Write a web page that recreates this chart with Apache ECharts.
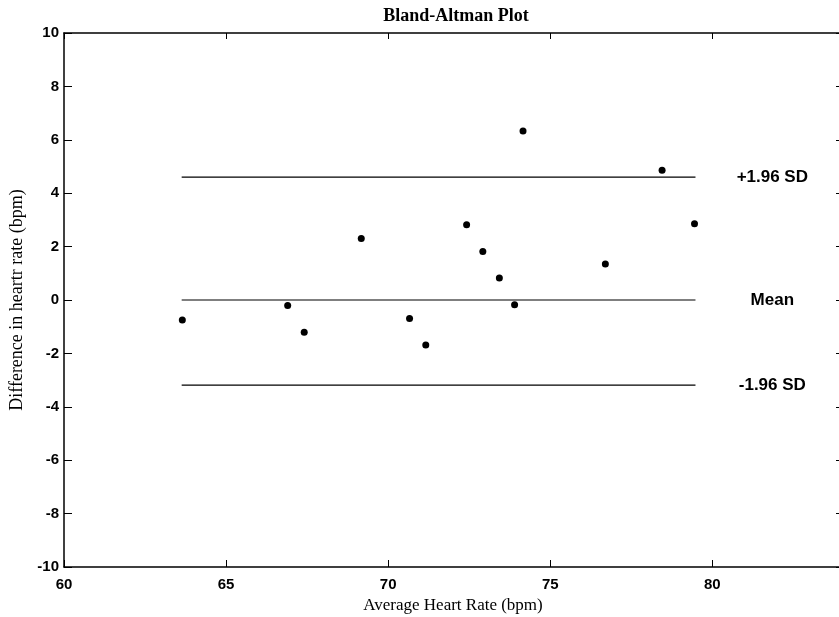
<!DOCTYPE html>
<html><head><meta charset="utf-8">
<script src="https://cdn.jsdelivr.net/npm/echarts@6/dist/echarts.min.js"></script>
<style>html,body{margin:0;padding:0;background:#fff}#c{width:839px;height:617px}</style>
</head><body><div id="c"></div>
<script>
const avgHR = [63.65, 66.90, 67.41, 69.17, 70.66, 71.16, 72.42, 72.92, 73.43, 73.90, 74.16, 76.70, 78.45, 79.45];
const diffHR = [-0.75, -0.21, -1.21, 2.30, -0.69, -1.69, 2.82, 1.82, 0.82, -0.18, 6.33, 1.35, 4.86, 2.86];
const lineX = [63.63, 79.48];
const upperSD = 4.6;
const meanDiff = 0.0;
const lowerSD = -3.19;
const refLabels = ['+1.96 SD', 'Mean', '-1.96 SD'];
const refValues = [upperSD, meanDiff, lowerSD];
const labelX = 81.85;
const xTicks = [60, 65, 70, 75, 80];
const yTicks = [-10, -8, -6, -4, -2, 0, 2, 4, 6, 8, 10];

const chart = echarts.init(document.getElementById('c'));
const tickLbl = {fontFamily: 'Liberation Sans, Arial', fontWeight: 'bold', fontSize: 15, color: '#000'};
const refLine = (v) => ({
  type: 'line', data: lineX.map(x => [x, v]), symbol: 'none', silent: true,
  lineStyle: {color: '#000', width: 1.2}, z: 2
});
chart.setOption({
  animation: false,
  title: {text: 'Bland-Altman Plot', left: 451, top: 2, textAlign: 'center',
    textStyle: {fontFamily: 'Liberation Serif, Times New Roman', fontWeight: 'bold', fontSize: 18, color: '#000'}},
  grid: {left: 64, top: 33, right: -3, bottom: 50, containLabel: false, outerBoundsMode: 'none'},
  xAxis: [{
    type: 'value', min: 60, max: 84, interval: 5, position: 'bottom',
    name: 'Average Heart Rate (bpm)', nameLocation: 'middle', nameGap: 30,
    nameTextStyle: {fontFamily: 'Liberation Serif, Times New Roman', fontSize: 17, color: '#000'},
    axisLine: {show: true, onZero: false, lineStyle: {color: '#000', width: 1.5}},
    axisTick: {show: true, inside: true, length: 7, lineStyle: {color: '#000'}},
    axisLabel: Object.assign({margin: 10, formatter: v => xTicks.includes(v) ? v : ''}, tickLbl),
    splitLine: {show: false}
  }, {
    type: 'value', min: 60, max: 84, interval: 5, position: 'top',
    axisLine: {show: true, onZero: false, lineStyle: {color: '#000', width: 1.5}},
    axisTick: {show: true, inside: true, length: 6, lineStyle: {color: '#000'}},
    axisLabel: {show: false}, splitLine: {show: false}
  }],
  yAxis: [{
    type: 'value', min: -10, max: 10, interval: 2,
    name: 'Difference in heartr rate (bpm)', nameLocation: 'middle', nameGap: 38, nameRotate: 90,
    nameTextStyle: {fontFamily: 'Liberation Serif, Times New Roman', fontSize: 18, color: '#000'},
    axisLine: {show: true, onZero: false, lineStyle: {color: '#000', width: 1.5}},
    axisTick: {show: true, inside: true, length: 8, lineStyle: {color: '#000'}},
    axisLabel: Object.assign({margin: 5, formatter: v => yTicks.includes(v) ? v : ''}, tickLbl),
    splitLine: {show: false}
  }, {
    type: 'value', min: -10, max: 10, interval: 2, position: 'right',
    axisLine: {show: false, onZero: false},
    axisTick: {show: true, inside: true, length: 6, lineStyle: {color: '#000'}},
    axisLabel: {show: false}, splitLine: {show: false}
  }],
  series: [
    refLine(upperSD), refLine(meanDiff), refLine(lowerSD),
    {
      type: 'scatter', data: refLabels.map((t, i) => ({value: [labelX, refValues[i]], name: t})),
      symbolSize: 0, silent: true, itemStyle: {opacity: 1},
      label: {show: true, position: 'inside', formatter: p => p.name,
        fontFamily: 'Liberation Sans, Arial', fontWeight: 'bold', fontSize: 17, color: '#000'}
    },
    {
      type: 'scatter', data: avgHR.map((x, i) => [x, diffHR[i]]),
      symbol: 'circle', symbolSize: 7, itemStyle: {color: '#000', opacity: 1}, z: 5
    }
  ]
});
</script></body></html>
